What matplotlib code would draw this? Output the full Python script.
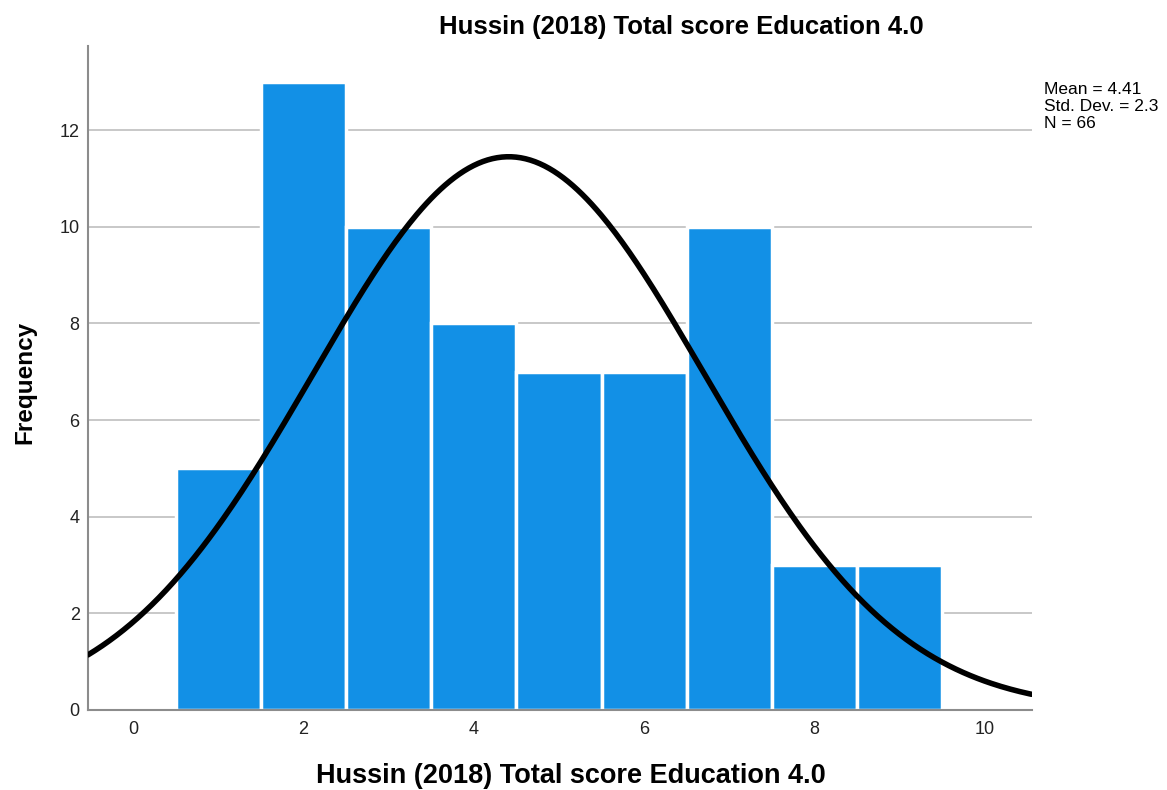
import matplotlib.pyplot as plt
import numpy as np

# ── Data ──────────────────────────────────────────────────────────────────────
SCORES = [1, 2, 3, 4, 5, 6, 7, 8, 9]
COUNTS = [5, 13, 10, 8, 7, 7, 10, 3, 3]
MEAN = 4.41
STD = 2.3
N = 66

TITLE = "Hussin (2018) Total score Education 4.0"
XLABEL = "Hussin (2018) Total score Education 4.0"
YLABEL = "Frequency"

BAR_COLOR = "#1290E6"
GRID_COLOR = "#BFBFBF"
AXIS_COLOR = "#8C8C8C"

plt.rcParams["font.family"] = ["Liberation Sans", "DejaVu Sans"]

fig = plt.figure(figsize=(11.67, 7.90), dpi=100)
ax = fig.add_axes([0.0754, 0.1013, 0.884 - 0.0754, 0.9418 - 0.1013])

ax.bar(SCORES, COUNTS, width=1.0, color=BAR_COLOR, edgecolor="white",
       linewidth=2.5, zorder=2)

# normal curve scaled to counts (bin width 1)
xs = np.linspace(-0.53, 10.55, 400)
ys = N * 1.0 / (STD * np.sqrt(2 * np.pi)) * np.exp(-0.5 * ((xs - MEAN) / STD) ** 2)
ax.plot(xs, ys, color="black", lw=4, zorder=3, solid_capstyle="round")

ax.set_xlim(-0.53, 10.55)
ax.set_ylim(0, 13.74)
ax.set_xticks(range(0, 11, 2))
ax.set_yticks(range(0, 13, 2))
ax.tick_params(length=0, labelsize=13, colors="#222222")
ax.tick_params(axis="x", pad=8)
ax.tick_params(axis="y", pad=6)

ax.yaxis.grid(True, color=GRID_COLOR, lw=1.2, zorder=0)
ax.set_axisbelow(True)
for side in ("top", "right"):
    ax.spines[side].set_visible(False)
for side in ("left", "bottom"):
    ax.spines[side].set_color(AXIS_COLOR)
    ax.spines[side].set_linewidth(1.5)

fig.text(681 / 1167, 1 - 27 / 790, TITLE, ha="center", va="center",
         fontsize=18.5, fontweight="bold")
fig.text(571 / 1167, 1 - 776 / 790, XLABEL, ha="center", va="center",
         fontsize=19.5, fontweight="bold")
fig.text(25 / 1167, 1 - 382 / 790, YLABEL, ha="center", va="center",
         rotation=90, fontsize=17.5, fontweight="bold")

fig.text(1044 / 1167, 1 - 82 / 790,
         f"Mean = {MEAN}\nStd. Dev. = {STD}\nN = {N}",
         ha="left", va="top", fontsize=12.5, linespacing=1.15)

fig.savefig("out.png", dpi=100)
